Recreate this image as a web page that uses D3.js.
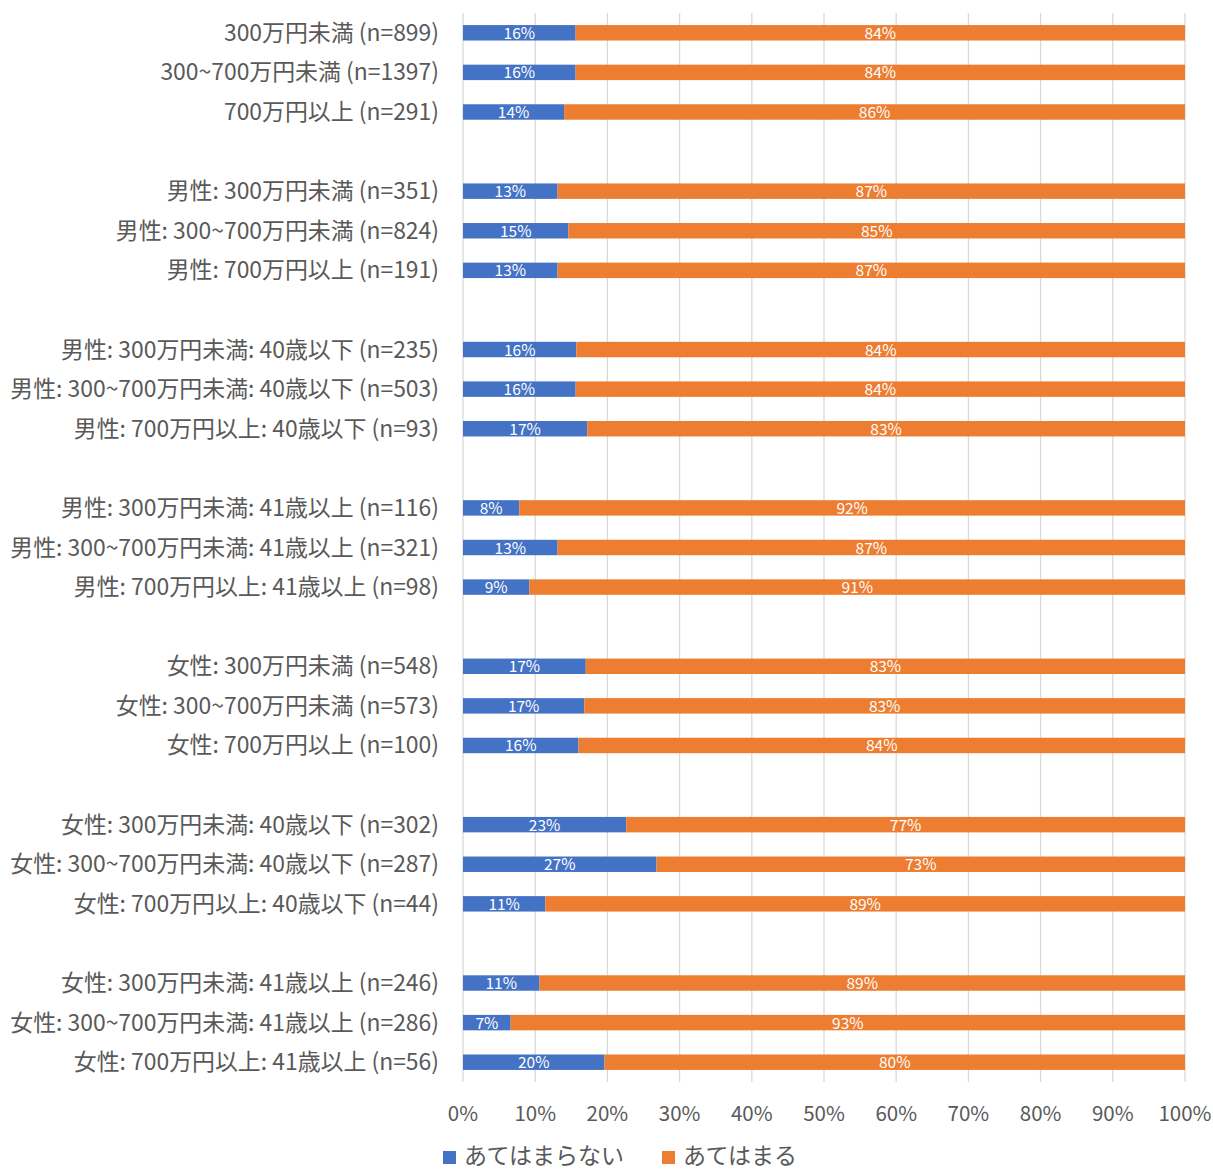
<!DOCTYPE html>
<html>
<head>
<meta charset="utf-8">
<script src="https://cdn.jsdelivr.net/npm/d3@7"></script>
<style>
  body { margin: 0; background: #fff; }
  svg text { font-family: "Noto Sans CJK JP", "Noto Sans", sans-serif; }
</style>
</head>
<body>
<script>
// Categories (top to bottom), grouped by threes
var categories = [
  "300万円未満 (n=899)",
  "300~700万円未満 (n=1397)",
  "700万円以上 (n=291)",
  "男性: 300万円未満 (n=351)",
  "男性: 300~700万円未満 (n=824)",
  "男性: 700万円以上 (n=191)",
  "男性: 300万円未満: 40歳以下 (n=235)",
  "男性: 300~700万円未満: 40歳以下 (n=503)",
  "男性: 700万円以上: 40歳以下 (n=93)",
  "男性: 300万円未満: 41歳以上 (n=116)",
  "男性: 300~700万円未満: 41歳以上 (n=321)",
  "男性: 700万円以上: 41歳以上 (n=98)",
  "女性: 300万円未満 (n=548)",
  "女性: 300~700万円未満 (n=573)",
  "女性: 700万円以上 (n=100)",
  "女性: 300万円未満: 40歳以下 (n=302)",
  "女性: 300~700万円未満: 40歳以下 (n=287)",
  "女性: 700万円以上: 40歳以下 (n=44)",
  "女性: 300万円未満: 41歳以上 (n=246)",
  "女性: 300~700万円未満: 41歳以上 (n=286)",
  "女性: 700万円以上: 41歳以上 (n=56)"
];

// "あてはまらない" share (%)
var notApply = [15.6, 15.6, 14.0, 13.1, 14.6, 13.1, 15.7, 15.6, 17.2,
                7.8, 13.1, 9.2, 17.0, 16.8, 16.0, 22.6, 26.8, 11.4,
                10.6, 6.6, 19.6];
// "あてはまる" share (%)
var apply = [84.4, 84.4, 86.0, 86.9, 85.4, 86.9, 84.3, 84.4, 82.8,
             92.2, 86.9, 90.8, 83.0, 83.2, 84.0, 77.4, 73.2, 88.6,
             89.4, 93.4, 80.4];

var seriesNames = ["あてはまらない", "あてはまる"];
var seriesColors = ["#4472C4", "#ED7D31"];
var xTicks = [0, 10, 20, 30, 40, 50, 60, 70, 80, 90, 100];

var width = 1213, height = 1173;
var plotLeft = 463, plotRight = 1185, plotTop = 13, plotBottom = 1082;
var groupSize = 3;

var svg = d3.select("body").append("svg")
    .attr("width", width)
    .attr("height", height);

// slot index leaves an empty row between groups
function slotOf(i) { return i + Math.floor(i / groupSize); }
var nSlots = slotOf(categories.length - 1) + 1;

var x = d3.scaleLinear().domain([0, 100]).range([plotLeft, plotRight]);
var y = d3.scaleBand()
    .domain(d3.range(nSlots))
    .range([plotTop, plotBottom])
    .paddingInner(0.61)
    .paddingOuter(0.305);

// Gridlines
svg.append("g").selectAll("line")
    .data(xTicks)
    .enter().append("line")
    .attr("x1", function(d) { return x(d); })
    .attr("x2", function(d) { return x(d); })
    .attr("y1", plotTop)
    .attr("y2", plotBottom)
    .attr("stroke", "#d9d9d9")
    .attr("stroke-width", 1.3);

// Stacked rows
var rows = categories.map(function(c, i) {
  return { name: c, slot: slotOf(i), vals: [notApply[i], apply[i]] };
});

var rowG = svg.append("g").selectAll("g")
    .data(rows)
    .enter().append("g");

rowG.each(function(r) {
  var g = d3.select(this);
  var start = 0;
  r.vals.forEach(function(v, k) {
    var x0 = x(start), x1 = x(start + v);
    g.append("rect")
      .attr("x", x0)
      .attr("y", y(r.slot))
      .attr("width", x1 - x0)
      .attr("height", y.bandwidth())
      .attr("fill", seriesColors[k]);
    g.append("text")
      .attr("x", (x0 + x1) / 2)
      .attr("y", y(r.slot) + y.bandwidth() / 2 + 6)
      .attr("text-anchor", "middle")
      .attr("fill", "#ffffff")
      .style("font-size", "15.5px")
      .text(Math.round(v) + "%");
    start += v;
  });
});

// Category labels
svg.append("g").selectAll("text")
    .data(rows)
    .enter().append("text")
    .attr("x", 439)
    .attr("y", function(r) { return y(r.slot) + y.bandwidth() / 2 + 8; })
    .attr("text-anchor", "end")
    .attr("fill", "#595959")
    .style("font-size", "22.9px")
    .text(function(r) { return r.name; });

// X axis tick labels
svg.append("g").selectAll("text")
    .data(xTicks)
    .enter().append("text")
    .attr("x", function(d) { return x(d); })
    .attr("y", 1121)
    .attr("text-anchor", "middle")
    .attr("fill", "#595959")
    .style("font-size", "20.5px")
    .text(function(d) { return d + "%"; });

// Legend
var legendX = [443, 662];
var leg = svg.append("g").selectAll("g")
    .data(seriesNames)
    .enter().append("g")
    .attr("transform", function(d, i) { return "translate(" + legendX[i] + ",0)"; });
leg.append("rect")
    .attr("x", 0).attr("y", 1151)
    .attr("width", 13).attr("height", 13)
    .attr("fill", function(d, i) { return seriesColors[i]; });
leg.append("text")
    .attr("x", 21).attr("y", 1164)
    .attr("fill", "#595959")
    .style("font-size", "23px")
    .text(function(d) { return d; });
</script>
</body>
</html>
